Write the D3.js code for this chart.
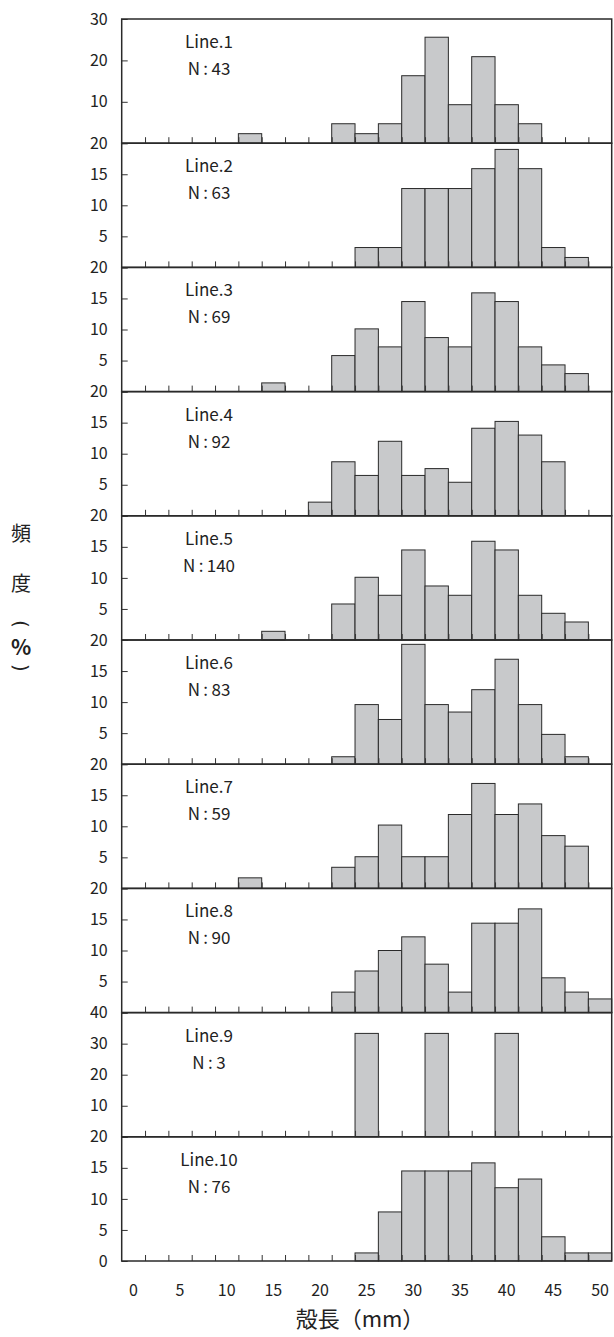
<!DOCTYPE html>
<html>
<head>
<meta charset="utf-8">
<script src="https://cdn.jsdelivr.net/npm/d3@7"></script>
<style>
  html, body { margin: 0; padding: 0; background: #fff; }
  text { font-family: "Noto Sans CJK JP", "Noto Sans", sans-serif; fill: #222; }
</style>
</head>
<body>
<div id="chart"></div>
<script>
// shell length classes (mm), every other one gets a label
const categories = ["0","2.5","5","7.5","10","12.5","15","17.5","20","22.5","25","27.5","30","32.5","35","37.5","40","42.5","45","47.5","50"];
const tickLabels = ["0","5","10","15","20","25","30","35","40","45","50"];

const lineNames = ["Line.1","Line.2","Line.3","Line.4","Line.5","Line.6","Line.7","Line.8","Line.9","Line.10"];
const sampleSizes = [43, 63, 69, 92, 140, 83, 59, 90, 3, 76];
const yMax  = [30, 20, 20, 20, 20, 20, 20, 20, 40, 20];
const yStep = [10, 5, 5, 5, 5, 5, 5, 5, 10, 5];

// frequency (%) per class
const freqLine1  = [0,0,0,0,0,2.3,0,0,0,4.7,2.3,4.7,16.3,25.6,9.3,20.9,9.3,4.7,0,0,0];
const freqLine2  = [0,0,0,0,0,0,0,0,0,0,3.2,3.2,12.7,12.7,12.7,15.9,19.0,15.9,3.2,1.6,0];
const freqLine3  = [0,0,0,0,0,0,1.4,0,0,5.8,10.1,7.2,14.5,8.7,7.2,15.9,14.5,7.2,4.3,2.9,0];
const freqLine4  = [0,0,0,0,0,0,0,0,2.2,8.7,6.5,12.0,6.5,7.6,5.4,14.1,15.2,13.0,8.7,0,0];
const freqLine5  = [0,0,0,0,0,0,1.4,0,0,5.8,10.1,7.2,14.5,8.7,7.2,15.9,14.5,7.2,4.3,2.9,0];
const freqLine6  = [0,0,0,0,0,0,0,0,0,1.2,9.6,7.2,19.3,9.6,8.4,12.0,16.9,9.6,4.8,1.2,0];
const freqLine7  = [0,0,0,0,0,1.7,0,0,0,3.4,5.1,10.2,5.1,5.1,11.9,16.9,11.9,13.6,8.5,6.8,0];
const freqLine8  = [0,0,0,0,0,0,0,0,0,3.3,6.7,10.0,12.2,7.8,3.3,14.4,14.4,16.7,5.6,3.3,2.2];
const freqLine9  = [0,0,0,0,0,0,0,0,0,0,33.3,0,0,33.3,0,0,33.3,0,0,0,0];
const freqLine10 = [0,0,0,0,0,0,0,0,0,0,1.3,7.9,14.5,14.5,14.5,15.8,11.8,13.2,3.9,1.3,1.3];

const series = [freqLine1, freqLine2, freqLine3, freqLine4, freqLine5,
                freqLine6, freqLine7, freqLine8, freqLine9, freqLine10];

const width = 614, height = 1337;
const plotLeft = 121.7, plotRight = 611.7, plotTop = 19, panelH = 124.2;

const svg = d3.select("#chart").append("svg")
  .attr("width", width)
  .attr("height", height);

const x = d3.scaleBand()
  .domain(categories)
  .range([plotLeft, plotRight])
  .padding(0);

// class edges, for the inner tick marks
const xEdge = d3.scaleLinear()
  .domain([0, categories.length])
  .range([plotLeft, plotRight]);

series.forEach((vals, i) => {
  const y0 = plotTop + i * panelH;
  const y1 = y0 + panelH;
  const y = d3.scaleLinear().domain([0, yMax[i]]).range([y1, y0]);
  const last = i === series.length - 1;

  const g = svg.append("g").attr("class", "panel");

  // bars
  g.selectAll("rect.bar")
    .data(vals.map((v, k) => ({cat: categories[k], v})).filter(d => d.v > 0))
    .enter()
    .append("rect")
      .attr("class", "bar")
      .attr("x", d => x(d.cat))
      .attr("width", x.bandwidth())
      .attr("y", d => y(d.v))
      .attr("height", d => y(0) - y(d.v))
      .attr("fill", "#c8c9cb")
      .attr("stroke", "#2a2a2a")
      .attr("stroke-width", 1);

  // y axis, ticks inward
  const yAxis = g.append("g")
    .attr("transform", "translate(" + plotLeft + ",0)")
    .call(d3.axisLeft(y)
      .tickValues(d3.range(0, yMax[i] + 0.01, yStep[i]))
      .tickSize(-6)
      .tickPadding(14)
      .tickFormat(d => (d === 0 && !last) ? "" : d));
  yAxis.select(".domain").remove();
  yAxis.selectAll(".tick line").attr("stroke", "#333");
  yAxis.selectAll(".tick text").style("font-size", "16px").attr("fill", "#222");

  // x tick marks at class edges, pointing up
  const xTicks = g.append("g")
    .attr("transform", "translate(0," + y1 + ")")
    .call(d3.axisBottom(xEdge)
      .tickValues(d3.range(1, categories.length))
      .tickSize(-6)
      .tickFormat(""));
  xTicks.select(".domain").remove();
  xTicks.selectAll(".tick line").attr("stroke", "#333");

  // frame
  g.append("rect")
    .attr("x", plotLeft)
    .attr("y", y0)
    .attr("width", plotRight - plotLeft)
    .attr("height", panelH)
    .attr("fill", "none")
    .attr("stroke", "#2a2a2a")
    .attr("stroke-width", 1.5);

  // line name and sample size
  g.append("text")
    .attr("x", 209)
    .attr("y", y0 + 29)
    .attr("text-anchor", "middle")
    .style("font-size", "17px")
    .text(lineNames[i]);
  g.append("text")
    .attr("x", 209)
    .attr("y", y0 + 56)
    .attr("text-anchor", "middle")
    .style("font-size", "17px")
    .text("N\u2009:\u2009" + sampleSizes[i]);

  // category labels under the last panel
  if (last) {
    const xAxis = svg.append("g")
      .attr("transform", "translate(0," + y1 + ")")
      .call(d3.axisBottom(x)
        .tickSize(0)
        .tickPadding(24)
        .tickFormat(d => tickLabels.includes(d) ? d : ""));
    xAxis.select(".domain").remove();
    xAxis.selectAll(".tick text").style("font-size", "16px").attr("fill", "#222");
  }
});

// axis titles
svg.append("text")
  .attr("x", 360)
  .attr("y", 1327)
  .attr("text-anchor", "middle")
  .style("font-size", "22px")
  .text("殻長（mm）");

// vertical title, parentheses turned on their side
const yTitle = ["頻", "度", "(", "%", ")"];
const yTitlePos = [532, 582, 624, 646, 668];
const yTitleSize = [20, 20, 20, 21, 20];
svg.selectAll("text.ytitle")
  .data(yTitle)
  .enter()
  .append("text")
    .attr("class", "ytitle")
    .attr("transform", (d, k) => "translate(21," + yTitlePos[k] + ")" +
      ((d === "(" || d === ")") ? " rotate(90)" : ""))
    .attr("text-anchor", "middle")
    .attr("dominant-baseline", "central")
    .style("font-family", (d) => (d === "(" || d === ")") ? "'DejaVu Sans', sans-serif" : null)
    .style("font-size", (d, k) => yTitleSize[k] + "px")
    .style("font-weight", d => d === "%" ? "bold" : "normal")
    .text(d => d);
</script>
</body>
</html>
